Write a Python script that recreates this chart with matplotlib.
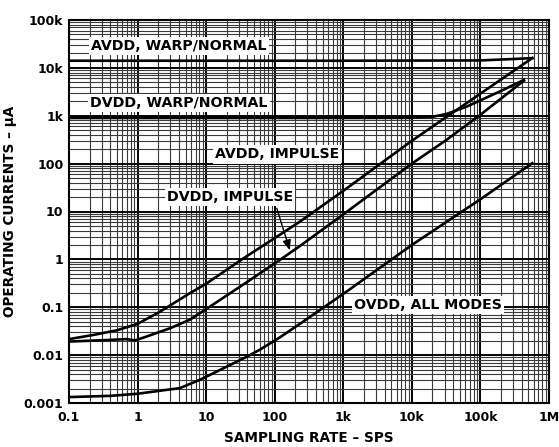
import matplotlib
matplotlib.use("Agg")
import matplotlib.pyplot as plt
from matplotlib.ticker import FixedLocator, LogLocator, NullFormatter

# sampling rate (SPS) / operating current (uA)
avdd_warp_x = [0.1, 1e3, 1e5, 3e5, 5.7e5]
avdd_warp_y = [14.1e3, 14.1e3, 14.3e3, 15.3e3, 16e3]

dvdd_warp_x = [0.1, 1e3, 1e4, 2e4, 3.2e4, 6.3e4, 1e5, 2e5, 4.3e5]
dvdd_warp_y = [900, 900, 905, 950, 1.09e3, 1.55e3, 2.1e3, 3.3e3, 5.6e3]

avdd_imp_x = [0.1, 0.23, 0.5, 1, 2.1, 5.8, 10, 35, 120, 233, 1e3, 1e4, 1e5, 5.7e5]
avdd_imp_y = [0.0216, 0.0265, 0.033, 0.045, 0.08, 0.197, 0.31, 1.05, 3.3, 6.15,
              27, 300, 2.9e3, 16e3]

dvdd_imp_x = [0.1, 0.4, 0.69, 0.92, 1.36, 3, 5.8, 9.6, 35, 120, 233, 1e3, 1e4,
              3.2e4, 1e5, 4.3e5]
dvdd_imp_y = [0.0192, 0.0208, 0.0216, 0.0203, 0.0245, 0.0366, 0.055, 0.088, 0.30,
              0.98, 1.9, 8.7, 100, 313, 1.05e3, 5.4e3]

ovdd_x = [0.1, 0.4, 1, 4.15, 8.1, 15.9, 38.9, 60.8, 119, 233, 1e3, 1e4, 1e5, 5.7e5]
ovdd_y = [0.00133, 0.00141, 0.00156, 0.00205, 0.00305, 0.0049, 0.0092, 0.013,
          0.0235, 0.045, 0.19, 2.0, 18, 102]

x_ticks = [0.1, 1, 10, 100, 1e3, 1e4, 1e5, 1e6]
x_labels = ["0.1", "1", "10", "100", "1k", "10k", "100k", "1M"]
y_ticks = [0.001, 0.01, 0.1, 1, 10, 100, 1e3, 1e4, 1e5]
y_labels = ["0.001", "0.01", "0.1", "1", "10", "100", "1k", "10k", "100k"]

plt.rcParams["font.family"] = "DejaVu Sans"
plt.rcParams["font.weight"] = "bold"

fig = plt.figure(figsize=(5.59, 4.47), dpi=100)
ax = fig.add_axes([69 / 559, 1 - 403 / 447, 480 / 559, 383 / 447])

ax.set_xscale("log")
ax.set_yscale("log")
ax.set_xlim(0.1, 1e6)
ax.set_ylim(0.001, 1e5)

ax.xaxis.set_major_locator(FixedLocator(x_ticks))
ax.set_xticklabels(x_labels)
ax.yaxis.set_major_locator(FixedLocator(y_ticks))
ax.set_yticklabels(y_labels)
ax.xaxis.set_minor_locator(LogLocator(base=10, subs=range(2, 10), numticks=20))
ax.yaxis.set_minor_locator(LogLocator(base=10, subs=range(2, 10), numticks=20))
ax.xaxis.set_minor_formatter(NullFormatter())
ax.yaxis.set_minor_formatter(NullFormatter())
ax.tick_params(which="both", length=0)
ax.tick_params(axis="x", pad=6, labelsize=9)
ax.tick_params(axis="y", pad=4, labelsize=9)

ax.grid(which="major", color="black", linewidth=1.4)
ax.grid(which="minor", color="#3a3a3a", linewidth=0.8)
ax.set_axisbelow(True)
for s in ax.spines.values():
    s.set_linewidth(1.5)

lw = 1.9
ax.plot(avdd_warp_x, avdd_warp_y, color="black", lw=lw)
ax.plot(dvdd_warp_x, dvdd_warp_y, color="black", lw=lw)
ax.plot(avdd_imp_x, avdd_imp_y, color="black", lw=lw)
ax.plot(dvdd_imp_x, dvdd_imp_y, color="black", lw=lw)
ax.plot(ovdd_x, ovdd_y, color="black", lw=lw)

box = dict(boxstyle="square,pad=0.15", facecolor="white", edgecolor="none")
labels = [
    ("AVDD, WARP/NORMAL", 0.229, 0.932),
    ("DVDD, WARP/NORMAL", 0.229, 0.783),
    ("AVDD, IMPULSE", 0.433, 0.649),
    ("DVDD, IMPULSE", 0.335, 0.537),
    ("OVDD, ALL MODES", 0.748, 0.255),
]
for txt, xf, yf in labels:
    ax.text(xf, yf, txt, transform=ax.transAxes, ha="center", va="center",
            fontsize=10.2, fontweight="bold", bbox=box, zorder=4)

ax.annotate("", xy=(0.460, 0.399), xytext=(0.433, 0.508), xycoords="axes fraction",
            textcoords="axes fraction",
            arrowprops=dict(arrowstyle="-|>,head_length=0.6,head_width=0.25",
                            color="black", lw=1.0, shrinkA=0, shrinkB=0), zorder=5)

ax.set_xlabel("SAMPLING RATE – SPS", fontsize=9.8, fontweight="bold", labelpad=5)
ax.set_ylabel("OPERATING CURRENTS – µA", fontsize=9.8, fontweight="bold", labelpad=5)

fig.savefig("out.png", dpi=100)
